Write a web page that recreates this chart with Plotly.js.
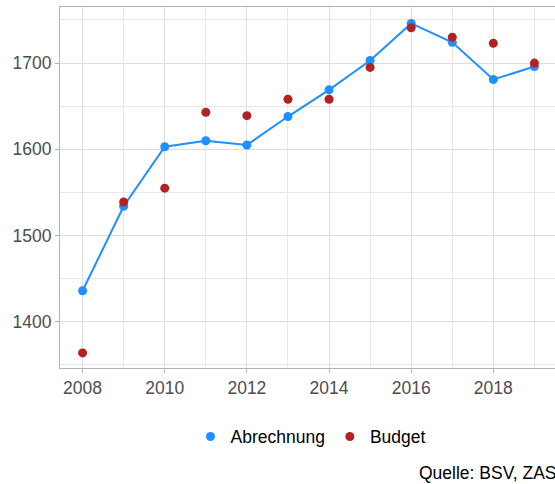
<!DOCTYPE html>
<html>
<head>
<meta charset="utf-8">
<script src="https://cdn.plot.ly/plotly-3.0.1.min.js"></script>
<style>
html, body { margin: 0; padding: 0; overflow: hidden; background: #fff; }
#chart { width: 562px; height: 484px; }
</style>
</head>
<body>
<div id="chart"></div>
<script>
const years = [2008, 2009, 2010, 2011, 2012, 2013, 2014, 2015, 2016, 2017, 2018, 2019];
const abrechnung = [1436, 1534, 1603, 1610, 1605, 1638, 1669, 1703, 1746, 1724, 1681, 1696];
const budget = [1364, 1539, 1555, 1643, 1639, 1658, 1658, 1695, 1741, 1730, 1723, 1700];
const seriesNames = ["Abrechnung", "Budget"];
const sourceText = "Quelle: BSV, ZAS";

const font = "Liberation Sans, Arial, Helvetica, sans-serif";
const fs = 17.5;

const traces = [
  {
    x: years, y: abrechnung, name: seriesNames[0], type: "scatter", mode: "lines",
    line: {color: "#1E90FF", width: 2}, showlegend: false, legendgroup: "a"
  },
  {
    x: years, y: abrechnung, name: seriesNames[0], type: "scatter", mode: "markers",
    marker: {color: "#1E90FF", size: 9}, legendgroup: "a"
  },
  {
    x: years, y: budget, name: seriesNames[1], type: "scatter", mode: "markers",
    marker: {color: "#B22222", size: 9}
  }
];

const layout = {
  width: 562, height: 484,
  margin: {l: 60, r: 5, t: 7, b: 116},
  paper_bgcolor: "#fff", plot_bgcolor: "#fff",
  font: {family: font, color: "#000", size: fs},
  showlegend: true,
  legend: {
    orientation: "h", x: 0.504, xanchor: "center", y: -0.19, yanchor: "middle",
    font: {family: font, size: fs, color: "#000"}
  },
  xaxis: {
    range: [2007.45, 2019.55],
    tick0: 2008, dtick: 2,
    showgrid: true, gridcolor: "#DEDEDE", gridwidth: 1,
    minor: {dtick: 1, tick0: 2008, showgrid: true, gridcolor: "#E8E8E8", gridwidth: 1, ticklen: 0},
    showline: true, linecolor: "#B3B3B3", linewidth: 1, mirror: true,
    ticks: "outside", ticklen: 4, tickcolor: "#B3B3B3",
    tickfont: {family: font, size: fs, color: "#4D4D4D"},
    zeroline: false
  },
  yaxis: {
    range: [1346.5, 1765],
    tick0: 1400, dtick: 100,
    showgrid: true, gridcolor: "#DEDEDE", gridwidth: 1,
    minor: {dtick: 50, tick0: 1350, showgrid: true, gridcolor: "#E8E8E8", gridwidth: 1, ticklen: 0},
    showline: true, linecolor: "#B3B3B3", linewidth: 1, mirror: true,
    ticks: "outside", ticklen: 4, tickcolor: "#B3B3B3",
    tickfont: {family: font, size: fs, color: "#4D4D4D"},
    zeroline: false
  },
  annotations: [{
    text: sourceText, xref: "paper", yref: "paper",
    x: 0.718, xanchor: "left", y: -0.29, yanchor: "middle",
    showarrow: false, font: {family: font, size: fs, color: "#000"}
  }]
};

Plotly.newPlot("chart", traces, layout, {displayModeBar: false, staticPlot: true});
</script>
</body>
</html>
